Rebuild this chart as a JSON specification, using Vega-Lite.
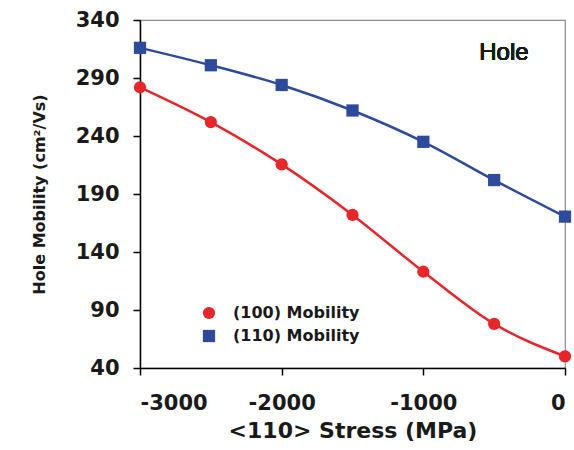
{
  "$schema": "https://vega.github.io/schema/vega-lite/v6.json",
  "width": 425,
  "height": 348,
  "autosize": {"type": "none"},
  "padding": {"left": 140, "top": 20, "right": 9, "bottom": 82},
  "background": "white",
  "config": {
    "view": {"stroke": "#8a8a8a", "strokeWidth": 1.2},
    "axis": {"grid": false, "domainColor": "black", "tickColor": "black", "labelColor": "#1a1a1a", "titleColor": "#1a1a1a", "labelFont": "DejaVu Sans", "titleFont": "DejaVu Sans", "labelFontWeight": "bold", "titleFontWeight": "bold"}
  },
  "data": {"values": [
    {"stress": -3000, "mobility": 282, "series": "(100) Mobility"},
    {"stress": -2500, "mobility": 252, "series": "(100) Mobility"},
    {"stress": -2000, "mobility": 215.5, "series": "(100) Mobility"},
    {"stress": -1500, "mobility": 172, "series": "(100) Mobility"},
    {"stress": -1000, "mobility": 123, "series": "(100) Mobility"},
    {"stress": -500, "mobility": 78, "series": "(100) Mobility"},
    {"stress": 0, "mobility": 50, "series": "(100) Mobility"},
    {"stress": -3000, "mobility": 316, "series": "(110) Mobility"},
    {"stress": -2500, "mobility": 301, "series": "(110) Mobility"},
    {"stress": -2000, "mobility": 284, "series": "(110) Mobility"},
    {"stress": -1500, "mobility": 262, "series": "(110) Mobility"},
    {"stress": -1000, "mobility": 235, "series": "(110) Mobility"},
    {"stress": -500, "mobility": 202, "series": "(110) Mobility"},
    {"stress": 0, "mobility": 170.5, "series": "(110) Mobility"}
  ]},
  "encoding": {
    "x": {"field": "stress", "type": "quantitative", "scale": {"domain": [-3000, 0], "nice": false}, "axis": {"values": [-3000, -2000, -1000, 0], "labelExpr": "'' + datum.value", "title": "<110> Stress (MPa)", "labelFontSize": 21, "titleFontSize": 22, "domainWidth": 1.5, "tickWidth": 1.5, "tickSize": 7, "labelPadding": 17, "titlePadding": 7}},
    "y": {"field": "mobility", "type": "quantitative", "scale": {"domain": [40, 340], "nice": false, "zero": false}, "axis": {"values": [40, 90, 140, 190, 240, 290, 340], "title": "Hole Mobility (cm²/Vs)", "labelFontSize": 21, "titleFontSize": 16, "domainWidth": 1.5, "tickWidth": 1.5, "tickSize": 7, "labelPadding": 14, "titlePadding": 28}}
  },
  "layer": [
    {"mark": {"type": "line", "interpolate": "monotone", "strokeWidth": 2.5},
     "encoding": {"color": {"field": "series", "type": "nominal", "title": null,
       "scale": {"domain": ["(100) Mobility", "(110) Mobility"], "range": ["#e5262b", "#2d4a9c"]},
       "legend": {"orient": "none", "legendX": 61, "legendY": 285, "padding": 0, "symbolSize": 150, "symbolStrokeWidth": 0, "labelOffset": 16, "labelFont": "DejaVu Sans", "labelFontWeight": "bold", "labelFontSize": 16, "labelColor": "#1a1a1a", "rowPadding": 7,
         "encoding": {"symbols": {
           "shape": {"value": {"expr": "datum.value === '(100) Mobility' ? 'circle' : 'square'"}},
           "fill": {"value": {"expr": "scale('color', datum.value)"}},
           "fillOpacity": {"value": 1},
           "strokeWidth": {"value": 0}
         }}}}}},
    {"mark": {"type": "point", "filled": true, "opacity": 1, "size": 150},
     "encoding": {
       "fill": {"field": "series", "type": "nominal", "scale": {"domain": ["(100) Mobility", "(110) Mobility"], "range": ["#e5262b", "#2d4a9c"]}, "legend": null},
       "shape": {"field": "series", "type": "nominal", "scale": {"domain": ["(100) Mobility", "(110) Mobility"], "range": ["circle", "square"]}, "legend": null}
     }},
    {"mark": {"type": "text", "text": "Hole", "font": "Liberation Sans", "fontWeight": "normal", "fontSize": 24, "align": "center", "baseline": "middle"},
     "encoding": {"x": {"datum": -431}, "y": {"datum": 311.5}, "color": {"value": "#1a1a1a"}}}
  ]
}
